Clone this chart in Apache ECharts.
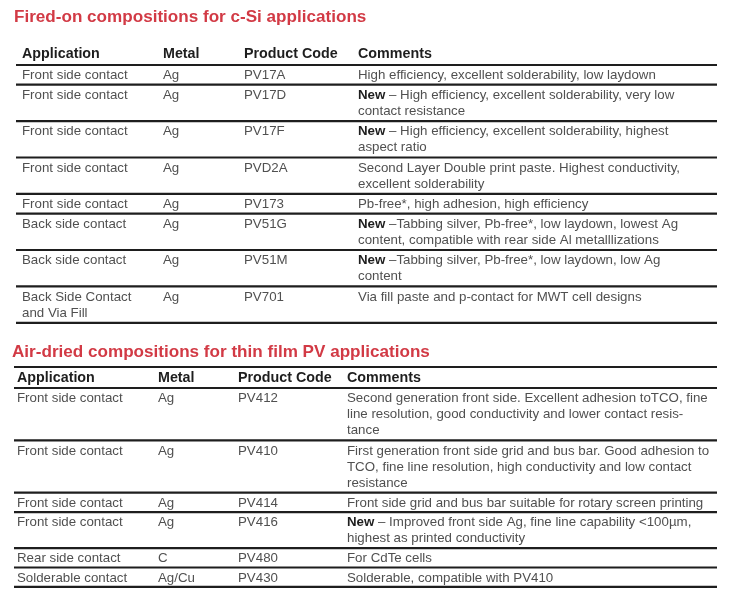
<!DOCTYPE html>
<html><head><meta charset="utf-8">
<script src="https://cdn.jsdelivr.net/npm/echarts@6/dist/echarts.min.js"></script>
<style>html,body{margin:0;padding:0;background:#fff}#c{width:730px;height:606px}</style>
</head><body><div id="c"></div>
<script>
// ---- data ----
const sectionTitles = ['Fired-on compositions for c-Si applications', 'Air-dried compositions for thin film PV applications'];
const headers = ['Application', 'Metal', 'Product Code', 'Comments'];

const t1Applications = [['Front side contact'], ['Front side contact'], ['Front side contact'], ['Front side contact'], ['Front side contact'], ['Back side contact'], ['Back side contact'], ['Back Side Contact', 'and Via Fill']];
const t1Metals = ['Ag', 'Ag', 'Ag', 'Ag', 'Ag', 'Ag', 'Ag', 'Ag'];
const t1Codes = ['PV17A', 'PV17D', 'PV17F', 'PVD2A', 'PV173', 'PV51G', 'PV51M', 'PV701'];
const t1Comments = [
  ['High efficiency, excellent solderability, low laydown'],
  ['New – High efficiency, excellent solderability, very low', 'contact resistance'],
  ['New – High efficiency, excellent solderability, highest', 'aspect ratio'],
  ['Second Layer Double print paste. Highest conductivity,', 'excellent solderability'],
  ['Pb-free*, high adhesion, high efficiency'],
  ['New –Tabbing silver, Pb-free*, low laydown, lowest Ag', 'content, compatible with rear side Al metalllizations'],
  ['New –Tabbing silver, Pb-free*, low laydown, low Ag', 'content'],
  ['Via fill paste and p-contact for MWT cell designs']
];

const t2Applications = [['Front side contact'], ['Front side contact'], ['Front side contact'], ['Front side contact'], ['Rear side contact'], ['Solderable contact']];
const t2Metals = ['Ag', 'Ag', 'Ag', 'Ag', 'C', 'Ag/Cu'];
const t2Codes = ['PV412', 'PV410', 'PV414', 'PV416', 'PV480', 'PV430'];
const t2Comments = [
  ['Second generation front side. Excellent adhesion toTCO, fine', 'line resolution, good conductivity and lower contact resis-', 'tance'],
  ['First generation front side grid and bus bar. Good adhesion to', 'TCO, fine line resolution, high conductivity and low contact', 'resistance'],
  ['Front side grid and bus bar suitable for rotary screen printing'],
  ['New – Improved front side Ag, fine line capability <100µm,', 'highest as printed conductivity'],
  ['For CdTe cells'],
  ['Solderable, compatible with PV410']
];

// ---- layout / style (not data) ----
const tables = [
  {app: t1Applications, metal: t1Metals, code: t1Codes, comm: t1Comments},
  {app: t2Applications, metal: t2Metals, code: t2Codes, comm: t2Comments}
];
const layouts = [
  {titleX: 14, titleY: 17, topLine: null, headerY: 54, headerLine: 65, colX: [22, 163, 244, 358], x1: 16, x2: 717, unit: 16.7},
  {titleX: 12, titleY: 352, topLine: 367, headerY: 378, headerLine: 388, colX: [17, 158, 238, 347], x1: 14, x2: 717, unit: 16.45}
];
const FONT = "'Liberation Sans', Arial, sans-serif";
const BODY = '#505050', DARK = '#1e1e1e', RED = '#d23a45';
const LINE_H = 16, ROW_PAD = 3;

function nLines(T, r) { return Math.max(T.app[r].length, T.comm[r].length, 1); }
function rowH(T, L, r) { return ROW_PAD + L.unit * nLines(T, r); }
function fmt(s) { return s.indexOf('New') === 0 ? '{b|New}' + s.slice(3) : s; }

function hline(api, x1, x2, y, w) {
  const a = api.coord([x1, y]), b = api.coord([x2, y]);
  return {type: 'line', shape: {x1: a[0], y1: a[1], x2: b[0], y2: b[1]}, style: {stroke: DARK, lineWidth: w}};
}
function txt(api, x, y, s, size, weight, color) {
  const p = api.coord([x, y]);
  return {type: 'text', x: p[0], y: p[1], style: {
    text: fmt(s), fontFamily: FONT, fontSize: size, fontWeight: weight, fill: color,
    verticalAlign: 'middle', align: 'left',
    rich: {b: {fontFamily: FONT, fontSize: size, fontWeight: 'bold', fill: DARK}}
  }};
}

function renderHeader(params, api) {
  const ti = api.value(0), L = layouts[ti];
  const ch = [];
  ch.push(txt(api, L.titleX, L.titleY, sectionTitles[ti], 17.1, 'bold', RED));
  headers.forEach((h, c) => ch.push(txt(api, L.colX[c], L.headerY, h, 14.3, 'bold', DARK)));
  if (L.topLine !== null) ch.push(hline(api, L.x1, L.x2, L.topLine, 2.2));
  ch.push(hline(api, L.x1, L.x2, L.headerLine, 2.2));
  return {type: 'group', children: ch};
}

function renderRow(params, api) {
  const ti = api.value(0), ri = api.value(1);
  const T = tables[ti], L = layouts[ti];
  let top = L.headerLine;
  for (let k = 0; k < ri; k++) top += rowH(T, L, k);
  const h = rowH(T, L, ri);
  const cells = [T.app[ri], [T.metal[ri]], [T.code[ri]], T.comm[ri]];
  const ch = [];
  cells.forEach((lines, c) => lines.forEach((s, i) => {
    ch.push(txt(api, L.colX[c], top + 10.5 + LINE_H * i, s, 13.3, 'normal', BODY));
  }));
  ch.push(hline(api, L.x1, L.x2, top + h, 2.2));
  return {type: 'group', children: ch};
}

const rowData = [];
tables.forEach((T, ti) => T.code.forEach((_, ri) => rowData.push([ti, ri])));

const chart = echarts.init(document.getElementById('c'), null, {renderer: 'canvas'});
chart.setOption({
  backgroundColor: '#ffffff',
  animation: false,
  grid: {left: 0, top: 0, right: 0, bottom: 0},
  xAxis: {type: 'value', min: 0, max: 730, show: false},
  yAxis: {type: 'value', min: 0, max: 606, inverse: true, show: false},
  series: [
    {type: 'custom', renderItem: renderHeader, data: [[0], [1]], clip: false, silent: true},
    {type: 'custom', renderItem: renderRow, data: rowData, clip: false, silent: true}
  ]
});
</script>
</body></html>
